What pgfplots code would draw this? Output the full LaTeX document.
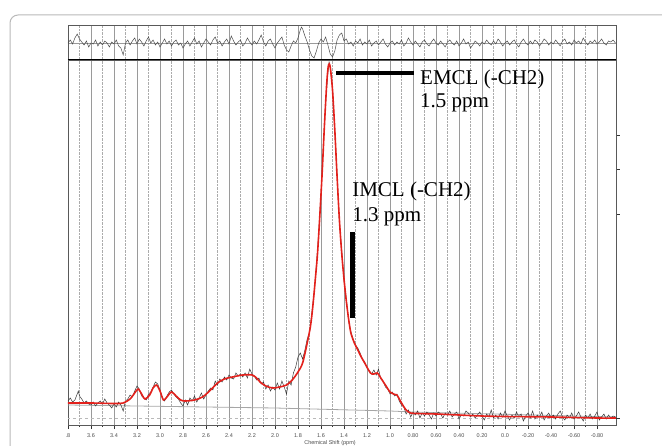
\documentclass[border=0pt]{standalone}
\usepackage{pgfplots}
\pgfplotsset{compat=1.18}
\usepackage{fontspec}
\setmainfont{Liberation Serif}
\newfontfamily\lsans{Liberation Sans}
\definecolor{fitred}{HTML}{E3211C}
\definecolor{gridgray}{HTML}{9A9A9A}

\pgfplotsset{
  nmr/.style={
    at={(68pt,20pt)}, anchor=south west, scale only axis, width=548pt,
    x dir=reverse, xmin=-0.965, xmax=3.8,
    xtick={3.8,3.6,3.4,3.2,3.0,2.8,2.6,2.4,2.2,2.0,1.8,1.6,1.4,1.2,1.0,0.8,0.6,0.4,0.2,0.0,-0.2,-0.4,-0.6,-0.8},
    minor x tick num=1,
    xmajorgrids, xminorgrids,
    major grid style={gridgray, line width=0.6pt},
    minor grid style={gray!65, densely dotted, line width=0.5pt},
    axis line style={black!65, line width=0.7pt},
    tick style={black!80, line width=0.5pt},
    tick align=outside,
  },
}

\begin{document}
\begin{tikzpicture}
\clip (0pt,0pt) rectangle (662pt,445pt);
\path[use as bounding box] (0pt,0pt) rectangle (662pt,445pt);
\draw[gray!55, line width=1pt, rounded corners=8pt] (10pt,-40pt) rectangle (720pt,430pt);

% main spectrum
\begin{axis}[nmr, height=365pt, ymin=0, ymax=365,
  xtick pos=lower, ytick pos=right,
  xticklabels={.8,3.6,3.4,3.2,3.0,2.8,2.6,2.4,2.2,2.0,1.8,1.6,1.4,1.2,1.0,0.80,0.60,0.40,0.20,0.0,-0.20,-0.40,-0.60,-0.80},
  tick label style={font=\lsans\fontsize{5.5}{6}\selectfont, text=black!70},
  xticklabel style={yshift=-1pt},
  major tick length=4pt, minor tick length=2pt,
  ytick={211,256,290}, yticklabels={},
  extra y ticks={7}, extra y tick labels={},
  extra y tick style={grid=major, major grid style={gray!55, dashed, line width=0.5pt}},
  clip=true]
% baseline
\addplot[gray!70, line width=0.8pt] coordinates {(3.8,20) (2.0,17) (1.0,14) (0.8,13) (-0.965,8)};
% measured data
\addplot[black!78, line width=0.5pt] coordinates {
(3.80,24) (3.78,27) (3.76,23) (3.74,25) (3.72,31) (3.71,34) (3.70,29) (3.68,26) (3.66,22) (3.64,24)
(3.62,21) (3.60,20) (3.58,23) (3.56,19) (3.54,22) (3.52,24) (3.50,21) (3.48,26) (3.46,22) (3.44,20)
(3.42,17) (3.40,21) (3.38,18) (3.36,23) (3.34,20) (3.32,14) (3.30,24) (3.28,26) (3.26,30) (3.24,28)
(3.22,34) (3.20,39) (3.18,36) (3.16,29) (3.14,27) (3.12,25) (3.10,31) (3.08,33) (3.06,38) (3.04,43)
(3.02,41) (3.00,35) (2.98,27) (2.96,24) (2.94,29) (2.92,33) (2.90,35) (2.88,31) (2.86,28) (2.84,26)
(2.82,22) (2.80,19) (2.78,25) (2.76,20) (2.74,27) (2.72,24) (2.70,29) (2.68,23) (2.66,27) (2.64,32)
(2.62,26) (2.60,30) (2.58,34) (2.56,37) (2.54,35) (2.52,44) (2.50,40) (2.48,46) (2.46,43) (2.44,48)
(2.42,45) (2.40,50) (2.38,47) (2.36,46) (2.34,52) (2.32,49) (2.30,51) (2.28,48) (2.26,52) (2.24,47)
(2.22,56) (2.20,51) (2.18,49) (2.16,45) (2.14,47) (2.12,41) (2.10,43) (2.08,36) (2.06,40) (2.04,34)
(2.02,38) (2.00,35) (1.98,42) (1.96,36) (1.94,44) (1.92,38) (1.90,31) (1.88,44) (1.86,40) (1.84,52)
(1.82,58) (1.80,68) (1.78,72) (1.76,66) (1.74,75) (1.72,86) (1.70,92) (1.68,112) (1.66,132) (1.64,160)
(1.62,192) (1.60,232) (1.58,278) (1.56,322) (1.54,352) (1.53,363) (1.52,357) (1.50,338) (1.48,293) (1.46,250)
(1.44,203) (1.42,175) (1.40,144) (1.38,126) (1.36,104) (1.34,93) (1.32,86) (1.30,80) (1.28,77) (1.26,72)
(1.24,66) (1.22,63) (1.20,57) (1.18,54) (1.16,51) (1.14,55) (1.12,50) (1.10,56) (1.08,46) (1.06,44)
(1.04,38) (1.02,36) (1.00,31) (0.98,33) (0.96,29) (0.94,31) (0.92,24) (0.90,20) (0.88,18) (0.86,11)
(0.84,15) (0.82,8) (0.80,13) (0.78,10) (0.76,14) (0.74,7) (0.72,12) (0.70,9) (0.68,13) (0.66,10)
(0.64,6) (0.62,12) (0.60,9) (0.58,13) (0.56,11) (0.54,7) (0.52,12) (0.50,10) (0.48,14) (0.46,8)
(0.44,11) (0.42,13) (0.40,6) (0.38,10) (0.36,9) (0.34,14) (0.32,12) (0.30,8) (0.28,11) (0.26,7)
(0.24,10) (0.22,13) (0.20,9) (0.18,5) (0.16,11) (0.14,8) (0.12,15) (0.10,7) (0.08,10) (0.06,6)
(0.04,12) (0.02,8) (0.00,14) (-0.02,9) (-0.04,5) (-0.06,10) (-0.08,7) (-0.10,13) (-0.12,8) (-0.14,11)
(-0.16,4) (-0.18,9) (-0.20,12) (-0.22,7) (-0.24,14) (-0.26,6) (-0.28,10) (-0.30,8) (-0.32,13) (-0.34,5)
(-0.36,9) (-0.38,12) (-0.40,7) (-0.42,10) (-0.44,6) (-0.46,11) (-0.48,14) (-0.50,8) (-0.52,5) (-0.54,10)
(-0.56,7) (-0.58,12) (-0.60,6) (-0.62,9) (-0.64,13) (-0.66,8) (-0.68,4) (-0.70,10) (-0.72,7) (-0.74,11)
(-0.76,6) (-0.78,9) (-0.80,13) (-0.82,5) (-0.84,8) (-0.86,11) (-0.88,6) (-0.90,10) (-0.92,7) (-0.94,9)
(-0.96,8)};
% fitted curve
\addplot[fitred, line width=1.6pt, smooth, tension=0.5] coordinates {
(3.80,22) (3.60,22) (3.40,21.5) (3.32,22) (3.26,26) (3.22,32) (3.19,36) (3.16,31) (3.13,26) (3.09,30)
(3.06,37) (3.03,40) (3.00,34) (2.97,25) (2.94,28) (2.90,33) (2.86,29) (2.82,25) (2.78,24) (2.70,25)
(2.63,28) (2.56,35) (2.50,42) (2.44,46) (2.37,48) (2.28,50) (2.20,50) (2.16,47) (2.13,43) (2.08,39)
(2.02,37) (1.96,38) (1.90,40) (1.85,45) (1.80,53) (1.76,62) (1.72,82) (1.69,100) (1.67,120) (1.65,145)
(1.63,172) (1.61,210) (1.59,252) (1.57,300) (1.55,342) (1.535,360) (1.52,358) (1.50,335) (1.48,295) (1.46,248)
(1.44,205) (1.42,172) (1.40,146) (1.38,124) (1.36,106) (1.34,92) (1.31,82) (1.28,75) (1.25,68) (1.22,62)
(1.17,52) (1.14,51) (1.11,52) (1.08,47) (1.04,40) (1.00,33) (0.97,31) (0.94,30) (0.90,22) (0.86,15)
(0.82,12) (0.76,11.5) (0.60,11) (0.40,10) (0.20,9) (0.00,8.5) (-0.40,8) (-0.80,7) (-0.965,7)};
% annotations
\draw[black, line width=4pt] (axis cs:1.470,352) -- (axis cs:0.791,352);
\draw[black, line width=4.5pt] (axis cs:1.326,193) -- (axis cs:1.326,107);
\node[anchor=base west, inner sep=0pt, font=\fontsize{21}{23}\selectfont] at (axis cs:0.739,340) {EMCL (-CH2)};
\node[anchor=base west, inner sep=0pt, font=\fontsize{21}{23}\selectfont] at (axis cs:0.739,317) {1.5 ppm};
\node[anchor=base west, inner sep=0pt, font=\fontsize{21}{23}\selectfont] at (axis cs:1.330,228) {IMCL (-CH2)};
\node[anchor=base west, inner sep=0pt, font=\fontsize{21}{23}\selectfont] at (axis cs:1.330,203) {1.3 ppm};
\end{axis}

% residual panel
\begin{axis}[nmr, at={(68pt,385pt)}, height=35pt, ymin=0, ymax=35,
  xticklabels={}, major tick length=0pt, minor tick length=0pt,
  ytick={17}, yticklabels={}, ymajorgrids,
  clip=true]
\addplot[black!70, line width=0.5pt] coordinates {
(3.80,17) (3.78,20) (3.76,16) (3.74,22) (3.72,26) (3.70,21) (3.68,18) (3.66,15) (3.64,19) (3.62,13)
(3.60,17) (3.58,16) (3.56,20) (3.54,14) (3.52,18) (3.50,15) (3.48,19) (3.46,17) (3.44,13) (3.42,18)
(3.40,16) (3.38,20) (3.36,14) (3.34,12) (3.32,5) (3.30,17) (3.28,20) (3.26,15) (3.24,19) (3.22,22)
(3.20,16) (3.18,21) (3.16,18) (3.14,14) (3.12,19) (3.10,23) (3.08,17) (3.06,20) (3.04,15) (3.02,18)
(3.00,13) (2.98,17) (2.96,21) (2.94,16) (2.92,19) (2.90,14) (2.88,18) (2.86,20) (2.84,15) (2.82,17)
(2.80,12) (2.78,16) (2.76,19) (2.74,14) (2.72,18) (2.70,22) (2.68,16) (2.66,19) (2.64,13) (2.62,17)
(2.60,21) (2.58,18) (2.56,15) (2.54,20) (2.52,23) (2.50,17) (2.48,19) (2.46,14) (2.44,18) (2.42,21)
(2.40,16) (2.38,24) (2.36,19) (2.34,15) (2.32,18) (2.30,20) (2.28,14) (2.26,17) (2.24,22) (2.22,18)
(2.20,15) (2.18,19) (2.16,16) (2.14,20) (2.12,25) (2.10,18) (2.08,14) (2.06,19) (2.04,21) (2.02,16)
(2.00,12) (1.98,17) (1.96,20) (1.94,23) (1.92,15) (1.90,10) (1.88,8) (1.86,14) (1.84,19) (1.82,17)
(1.80,22) (1.78,30) (1.77,33) (1.76,31) (1.74,24) (1.72,18) (1.70,10) (1.68,4) (1.66,2) (1.64,9)
(1.62,17) (1.60,21) (1.58,18) (1.56,23) (1.54,15) (1.52,6) (1.50,3) (1.48,9) (1.46,20) (1.44,25)
(1.42,27) (1.40,19) (1.38,21) (1.36,16) (1.34,18) (1.32,14) (1.30,19) (1.28,17) (1.26,21) (1.24,15)
(1.22,18) (1.20,16) (1.18,20) (1.16,14) (1.14,17) (1.12,19) (1.10,15) (1.08,18) (1.06,21) (1.04,16)
(1.02,13) (1.00,17) (0.98,19) (0.96,15) (0.94,18) (0.92,16) (0.90,20) (0.88,14) (0.86,17) (0.84,22)
(0.82,18) (0.80,15) (0.78,19) (0.76,16) (0.74,13) (0.72,18) (0.70,20) (0.68,16) (0.66,14) (0.64,18)
(0.62,21) (0.60,17) (0.58,15) (0.56,19) (0.54,16) (0.52,13) (0.50,18) (0.48,20) (0.46,17) (0.44,15)
(0.42,19) (0.40,14) (0.38,17) (0.36,21) (0.34,16) (0.32,18) (0.30,12) (0.28,15) (0.26,19) (0.24,17)
(0.22,14) (0.20,18) (0.18,16) (0.16,20) (0.14,17) (0.12,15) (0.10,19) (0.08,16) (0.06,21) (0.04,18)
(0.02,14) (0.00,17) (-0.02,19) (-0.04,15) (-0.06,18) (-0.08,20) (-0.10,16) (-0.12,13) (-0.14,18) (-0.16,21)
(-0.18,17) (-0.20,15) (-0.22,19) (-0.24,16) (-0.26,20) (-0.28,18) (-0.30,14) (-0.32,17) (-0.34,21) (-0.36,19)
(-0.38,15) (-0.40,18) (-0.42,16) (-0.44,20) (-0.46,17) (-0.48,14) (-0.50,19) (-0.52,21) (-0.54,16) (-0.56,18)
(-0.58,15) (-0.60,20) (-0.62,17) (-0.64,19) (-0.66,16) (-0.68,22) (-0.70,18) (-0.72,15) (-0.74,19) (-0.76,17)
(-0.78,20) (-0.80,16) (-0.82,18) (-0.84,21) (-0.86,17) (-0.88,15) (-0.90,19) (-0.92,18) (-0.94,20) (-0.96,17)};
\draw[black, line width=1.5pt] (rel axis cs:0,0) -- (rel axis cs:1,0);
\end{axis}

\node[font=\lsans\fontsize{5.5}{6}\selectfont, text=black!70] at (330pt,1.5pt) {Chemical Shift (ppm)};
\end{tikzpicture}
\end{document}
